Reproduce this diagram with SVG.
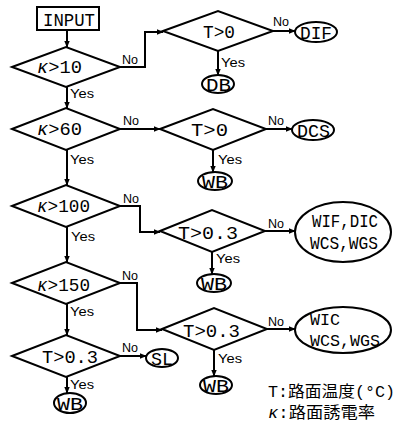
<svg xmlns="http://www.w3.org/2000/svg" width="400" height="427" viewBox="0 0 400 427">
<style>
.s{fill:#fff;stroke:#000;stroke-width:2}
.c{fill:none;stroke:#000;stroke-width:2}
.t{font-family:"Liberation Mono",monospace;font-size:19px;fill:#000}
.u{font-size:17px}
.m{font-family:"Liberation Sans",sans-serif;font-size:13px;fill:#000}
.l{font-family:"Liberation Mono","Noto Sans CJK JP",monospace;font-size:16px;fill:#000}
</style>
<defs>
<marker id="a" viewBox="0 0 10 10" refX="9" refY="5" markerWidth="7" markerHeight="7" markerUnits="userSpaceOnUse" orient="auto">
<path d="M0,1 L10,5 L0,9 Z" fill="#000"/>
</marker>
</defs>
<rect width="400" height="427" fill="#fff"/>
<g id="connectors" class="c" marker-end="url(#a)">
<path d="M67,30 V47"/>
<path d="M120,67 H145 V32 H163"/>
<path d="M273,31 H295"/>
<path d="M218,51 V75"/>
<path d="M67,87 V108"/>
<path d="M120,129 H160"/>
<path d="M266,129 H292"/>
<path d="M213,150 V172"/>
<path d="M67,150 V185"/>
<path d="M120,206 H140 V232 H160"/>
<path d="M265,231 H295"/>
<path d="M212,252 V274"/>
<path d="M67,227 V262"/>
<path d="M120,283 H137 V330 H162"/>
<path d="M267,329 H295"/>
<path d="M214,350 V376"/>
<path d="M67,304 V335"/>
<path d="M120,356 H146"/>
<path d="M67,377 V393"/>
</g>
<g id="labels" class="m">
<text x="122" y="64" textLength="16" lengthAdjust="spacingAndGlyphs">No</text>
<text x="273" y="26" textLength="16" lengthAdjust="spacingAndGlyphs">No</text>
<text x="221" y="67" textLength="24" lengthAdjust="spacingAndGlyphs">Yes</text>
<text x="70" y="98" textLength="24" lengthAdjust="spacingAndGlyphs">Yes</text>
<text x="123" y="125" textLength="16" lengthAdjust="spacingAndGlyphs">No</text>
<text x="268" y="125" textLength="16" lengthAdjust="spacingAndGlyphs">No</text>
<text x="218" y="164" textLength="24" lengthAdjust="spacingAndGlyphs">Yes</text>
<text x="70" y="164" textLength="24" lengthAdjust="spacingAndGlyphs">Yes</text>
<text x="123" y="203" textLength="16" lengthAdjust="spacingAndGlyphs">No</text>
<text x="268" y="228" textLength="16" lengthAdjust="spacingAndGlyphs">No</text>
<text x="216" y="263" textLength="24" lengthAdjust="spacingAndGlyphs">Yes</text>
<text x="71" y="241" textLength="24" lengthAdjust="spacingAndGlyphs">Yes</text>
<text x="122" y="280" textLength="16" lengthAdjust="spacingAndGlyphs">No</text>
<text x="268" y="326" textLength="16" lengthAdjust="spacingAndGlyphs">No</text>
<text x="218" y="363" textLength="24" lengthAdjust="spacingAndGlyphs">Yes</text>
<text x="70" y="316" textLength="24" lengthAdjust="spacingAndGlyphs">Yes</text>
<text x="122" y="352" textLength="16" lengthAdjust="spacingAndGlyphs">No</text>
<text x="70" y="389" textLength="24" lengthAdjust="spacingAndGlyphs">Yes</text>
</g>
<g id="input"><rect class="s" x="37" y="7" width="62" height="23"/><text class="t" x="43" y="26" textLength="52" lengthAdjust="spacingAndGlyphs">INPUT</text></g>
<g id="k10"><path class="s" d="M12,67 L66,47 L120,67 L66,87 Z"/><text class="t" x="37" y="73" textLength="45" lengthAdjust="spacingAndGlyphs"><tspan font-style="italic">κ</tspan>&gt;10</text></g>
<g id="t0a"><path class="s" d="M163,31 L218,11 L273,31 L218,51 Z"/><text class="t" x="203" y="38" textLength="32" lengthAdjust="spacingAndGlyphs">T&gt;0</text></g>
<g id="dif"><ellipse class="s" cx="316" cy="32" rx="21" ry="10"/><text class="t" x="300" y="39" textLength="32" lengthAdjust="spacingAndGlyphs">DIF</text></g>
<g id="db"><ellipse class="s" cx="218" cy="84" rx="16" ry="9"/><text class="t" x="206" y="91" textLength="25" lengthAdjust="spacingAndGlyphs">DB</text></g>
<g id="k60"><path class="s" d="M12,129 L66,108 L120,129 L66,150 Z"/><text class="t" x="37" y="135" textLength="45" lengthAdjust="spacingAndGlyphs"><tspan font-style="italic">κ</tspan>&gt;60</text></g>
<g id="t0b"><path class="s" d="M160,129 L213,109 L266,129 L213,150 Z"/><text class="t" x="191" y="136" textLength="37" lengthAdjust="spacingAndGlyphs">T&gt;0</text></g>
<g id="dcs"><ellipse class="s" cx="313" cy="130" rx="21" ry="10"/><text class="t" x="297" y="137" textLength="33" lengthAdjust="spacingAndGlyphs">DCS</text></g>
<g id="wb1"><ellipse class="s" cx="215" cy="181" rx="17" ry="9"/><text class="t" x="202" y="188" textLength="26" lengthAdjust="spacingAndGlyphs">WB</text></g>
<g id="k100"><path class="s" d="M12,206 L66,185 L120,206 L66,227 Z"/><text class="t" x="37" y="212" textLength="53" lengthAdjust="spacingAndGlyphs"><tspan font-style="italic">κ</tspan>&gt;100</text></g>
<g id="t03a"><path class="s" d="M160,231 L212,210 L265,231 L212,252 Z"/><text class="t" x="178" y="239" textLength="60" lengthAdjust="spacingAndGlyphs">T&gt;0.3</text></g>
<g id="wifdic"><ellipse class="s" cx="343" cy="232" rx="48" ry="30"/><text class="t" x="312" y="227" textLength="66" lengthAdjust="spacingAndGlyphs">WIF,DIC</text><text class="t" x="310" y="249" textLength="68" lengthAdjust="spacingAndGlyphs">WCS,WGS</text></g>
<g id="wb2"><ellipse class="s" cx="214" cy="283" rx="17" ry="9"/><text class="t" x="201" y="290" textLength="26" lengthAdjust="spacingAndGlyphs">WB</text></g>
<g id="k150"><path class="s" d="M12,283 L66,262 L120,283 L66,304 Z"/><text class="t" x="37" y="291" textLength="53" lengthAdjust="spacingAndGlyphs"><tspan font-style="italic">κ</tspan>&gt;150</text></g>
<g id="t03b"><path class="s" d="M162,329 L214,308 L267,329 L214,350 Z"/><text class="t" x="183" y="337" textLength="57" lengthAdjust="spacingAndGlyphs">T&gt;0.3</text></g>
<g id="wic"><ellipse class="s" cx="343" cy="330" rx="48" ry="23"/><text class="t u" x="310" y="325" textLength="30" lengthAdjust="spacingAndGlyphs">WIC</text><text class="t u" x="310" y="346" textLength="70" lengthAdjust="spacingAndGlyphs">WCS,WGS</text></g>
<g id="wb3"><ellipse class="s" cx="216" cy="385" rx="16" ry="9"/><text class="t" x="203" y="392" textLength="26" lengthAdjust="spacingAndGlyphs">WB</text></g>
<g id="t03c"><path class="s" d="M12,356 L66,335 L120,356 L66,377 Z"/><text class="t" x="42" y="363" textLength="56" lengthAdjust="spacingAndGlyphs">T&gt;0.3</text></g>
<g id="sl"><ellipse class="s" cx="162" cy="358" rx="16" ry="9"/><text class="t" x="151" y="365" textLength="22" lengthAdjust="spacingAndGlyphs">SL</text></g>
<g id="wb4"><ellipse class="s" cx="70" cy="403" rx="16" ry="10"/><text class="t" x="57" y="410" textLength="26" lengthAdjust="spacingAndGlyphs">WB</text></g>
<g id="legend" class="l">
<text x="268" y="397" textLength="127" lengthAdjust="spacingAndGlyphs">T:路面温度(°C)</text>
<text x="268" y="418" textLength="107" lengthAdjust="spacingAndGlyphs"><tspan font-style="italic">κ</tspan>:路面誘電率</text>
</g>
</svg>
